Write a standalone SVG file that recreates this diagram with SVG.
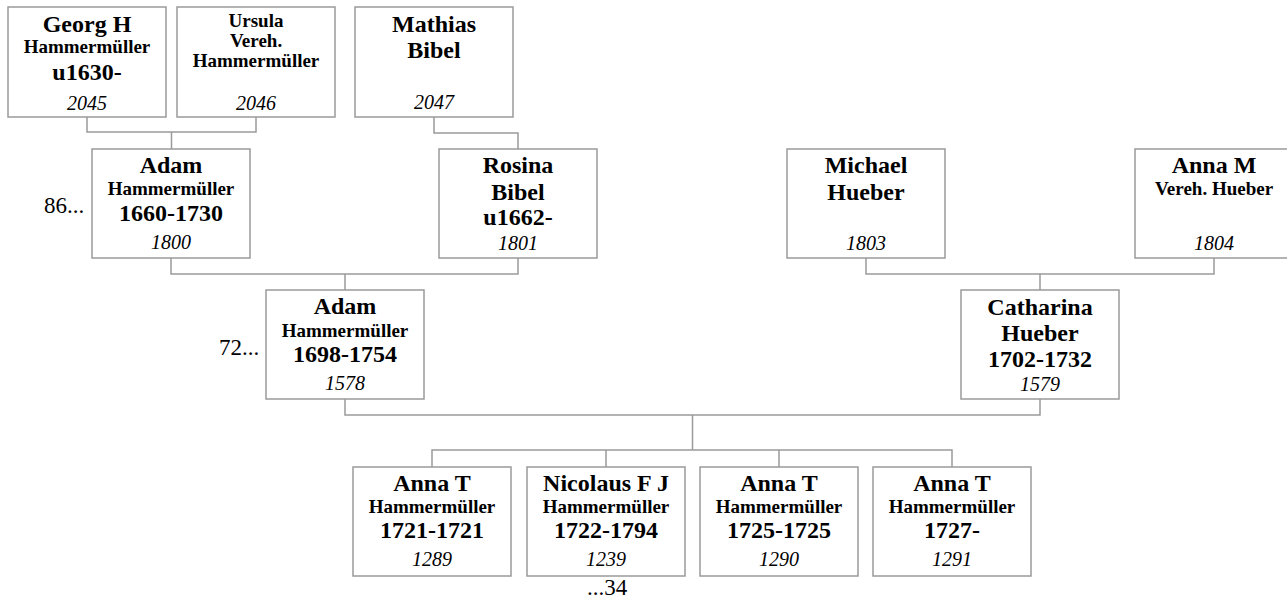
<svg xmlns="http://www.w3.org/2000/svg" width="1287" height="600" viewBox="0 0 1287 600">
<style>
  .box { fill: #ffffff; stroke: #9a9a9a; stroke-width: 1.5; }
  .ln { fill: none; stroke: #9a9a9a; stroke-width: 1.5; }
  text { font-family: "Liberation Serif", "Times New Roman", serif; fill: #000; text-anchor: middle; }
  .b { font-size: 24px; font-weight: bold; }
  .s { font-size: 19px; font-weight: bold; }
  .n { font-size: 20px; font-style: italic; }
  .r { font-size: 23px; }
</style>
<rect width="1287" height="600" fill="#ffffff"/>
<g id="connectors">
  <path class="ln" d="M87 117 V132 H256 V117 M171.5 132 V149"/>
  <path class="ln" d="M434 117 V133 H518 V149"/>
  <path class="ln" d="M171 258 V274 H518 V258 M345 274 V290"/>
  <path class="ln" d="M866 258 V274 H1214 V258 M1040 274 V290"/>
  <path class="ln" d="M345 399 V415 H1040 V399 M692.5 415 V450"/>
  <path class="ln" d="M432 467 V450 H952 V467 M606 450 V467 M779 450 V467"/>
</g>
<g id="n2045">
  <rect class="box" x="8" y="7" width="158" height="110"/>
  <text class="b" x="87" y="32">Georg H</text>
  <text class="s" x="87" y="53">Hammermüller</text>
  <text class="b" x="87" y="80">u1630-</text>
  <text class="n" x="87" y="110">2045</text>
</g>
<g id="n2046">
  <rect class="box" x="177" y="7" width="158" height="110"/>
  <text class="s" x="256" y="27">Ursula</text>
  <text class="s" x="256" y="47">Vereh.</text>
  <text class="s" x="256" y="67">Hammermüller</text>
  <text class="n" x="256" y="110">2046</text>
</g>
<g id="n2047">
  <rect class="box" x="355" y="7" width="158" height="110"/>
  <text class="b" x="434" y="32">Mathias</text>
  <text class="b" x="434" y="58">Bibel</text>
  <text class="n" x="434" y="109">2047</text>
</g>
<g id="n1800">
  <rect class="box" x="92" y="149" width="158" height="109"/>
  <text class="b" x="171" y="173">Adam</text>
  <text class="s" x="171" y="195">Hammermüller</text>
  <text class="b" x="171" y="221">1660-1730</text>
  <text class="n" x="171" y="249">1800</text>
</g>
<text class="r" x="44" y="213" style="text-anchor:start">86...</text>
<g id="n1801">
  <rect class="box" x="439" y="149" width="158" height="109"/>
  <text class="b" x="518" y="173">Rosina</text>
  <text class="b" x="518" y="200">Bibel</text>
  <text class="b" x="518" y="225">u1662-</text>
  <text class="n" x="518" y="250">1801</text>
</g>
<g id="n1803">
  <rect class="box" x="787" y="149" width="158" height="109"/>
  <text class="b" x="866" y="173">Michael</text>
  <text class="b" x="866" y="200">Hueber</text>
  <text class="n" x="866" y="250">1803</text>
</g>
<g id="n1804">
  <rect class="box" x="1135" y="149" width="158" height="109"/>
  <text class="b" x="1214" y="173">Anna M</text>
  <text class="s" x="1214" y="195">Vereh. Hueber</text>
  <text class="n" x="1214" y="250">1804</text>
</g>
<g id="n1578">
  <rect class="box" x="266" y="290" width="158" height="109"/>
  <text class="b" x="345" y="314">Adam</text>
  <text class="s" x="345" y="337">Hammermüller</text>
  <text class="b" x="345" y="362">1698-1754</text>
  <text class="n" x="345" y="390">1578</text>
</g>
<text class="r" x="219" y="355" style="text-anchor:start">72...</text>
<g id="n1579">
  <rect class="box" x="961" y="290" width="158" height="109"/>
  <text class="b" x="1040" y="315">Catharina</text>
  <text class="b" x="1040" y="341">Hueber</text>
  <text class="b" x="1040" y="367">1702-1732</text>
  <text class="n" x="1040" y="391">1579</text>
</g>
<g id="n1289">
  <rect class="box" x="353" y="467" width="158" height="109"/>
  <text class="b" x="432" y="491">Anna T</text>
  <text class="s" x="432" y="513">Hammermüller</text>
  <text class="b" x="432" y="538">1721-1721</text>
  <text class="n" x="432" y="566">1289</text>
</g>
<g id="n1239">
  <rect class="box" x="527" y="467" width="158" height="109"/>
  <text class="b" x="606" y="491">Nicolaus F J</text>
  <text class="s" x="606" y="513">Hammermüller</text>
  <text class="b" x="606" y="538">1722-1794</text>
  <text class="n" x="606" y="566">1239</text>
</g>
<text class="r" x="607" y="595">...34</text>
<g id="n1290">
  <rect class="box" x="700" y="467" width="158" height="109"/>
  <text class="b" x="779" y="491">Anna T</text>
  <text class="s" x="779" y="513">Hammermüller</text>
  <text class="b" x="779" y="538">1725-1725</text>
  <text class="n" x="779" y="566">1290</text>
</g>
<g id="n1291">
  <rect class="box" x="873" y="467" width="158" height="109"/>
  <text class="b" x="952" y="491">Anna T</text>
  <text class="s" x="952" y="513">Hammermüller</text>
  <text class="b" x="952" y="538">1727-</text>
  <text class="n" x="952" y="566">1291</text>
</g>
</svg>
